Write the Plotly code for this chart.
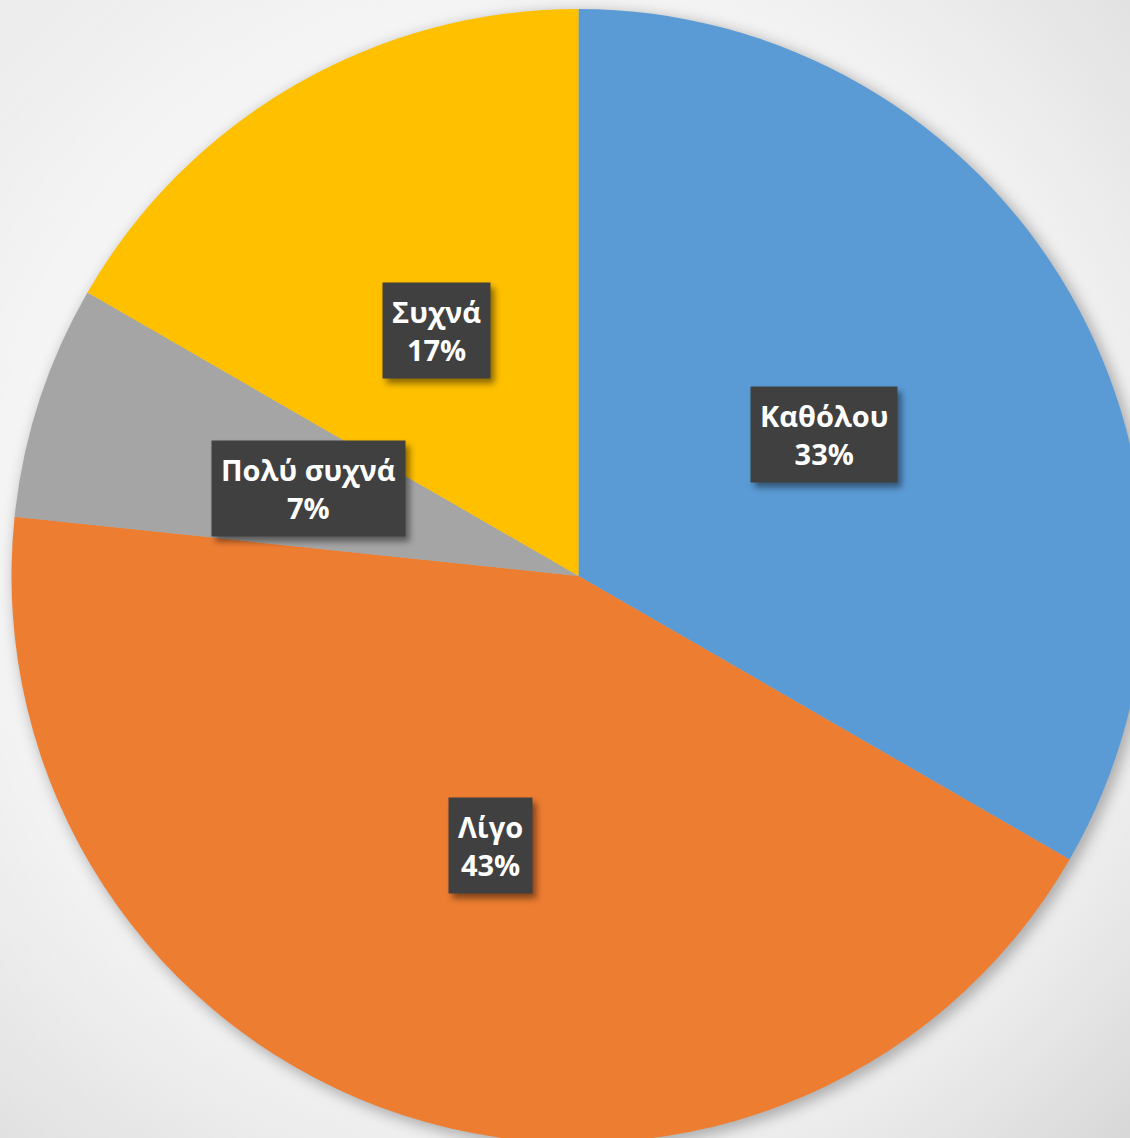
import math
import base64
import plotly.graph_objects as go

# ---- data ----
categories = ["Καθόλου", "Λίγο", "Πολύ συχνά", "Συχνά"]
counts = [10, 13, 2, 5]
colors = ["#5B9BD5", "#ED7D31", "#A5A5A5", "#FFC000"]

# ---- canvas geometry ----
W, H = 1146, 1144
dom_x = [11 / W, 1.0]
dom_y = [1 - 1143 / H, 1 - 9 / H]
cx_px = (dom_x[0] + dom_x[1]) / 2 * W
cy_px = (1 - (dom_y[0] + dom_y[1]) / 2) * H
R_px = min((dom_x[1] - dom_x[0]) * W, (dom_y[1] - dom_y[0]) * H) / 2

# background: soft gradient + pie shadow (decoration only)
svg = f"""<svg xmlns='http://www.w3.org/2000/svg' width='{W}' height='{H}' viewBox='0 0 {W} {H}'>
<defs>
<linearGradient id='lg' x1='0' y1='0' x2='1' y2='1'>
<stop offset='0' stop-color='#ececec'/><stop offset='1' stop-color='#d4d4d4'/></linearGradient>
<radialGradient id='rg' cx='{cx_px}' cy='{cy_px}' r='{R_px*1.45}' gradientUnits='userSpaceOnUse'>
<stop offset='0.6' stop-color='#ffffff' stop-opacity='0.75'/><stop offset='1' stop-color='#ffffff' stop-opacity='0'/></radialGradient>
<filter id='bl' x='-20%' y='-20%' width='140%' height='140%'><feGaussianBlur stdDeviation='7'/></filter>
</defs>
<rect width='{W}' height='{H}' fill='url(#lg)'/>
<rect width='{W}' height='{H}' fill='url(#rg)'/>
<circle cx='{cx_px+4}' cy='{cy_px+4}' r='{R_px+2}' fill='#000000' fill-opacity='0.28' filter='url(#bl)'/>
</svg>"""
svg_uri = "data:image/svg+xml;base64," + base64.b64encode(svg.encode("utf-8")).decode("ascii")

total = sum(counts)
fig = go.Figure(
    go.Pie(
        labels=categories,
        values=counts,
        sort=False,
        direction="clockwise",
        rotation=0,
        marker=dict(colors=colors, line=dict(width=0)),
        textinfo="none",
        hoverinfo="label+percent",
        showlegend=False,
        domain=dict(x=dom_x, y=dom_y),
    )
)

# data labels at half radius of each slice's mid-angle
annotations = []
cum = 0
for cat, v in zip(categories, counts):
    mid = (cum + v / 2) / total
    cum += v
    ang = 2 * math.pi * mid
    px = cx_px + 0.5 * R_px * math.sin(ang)
    py = cy_px - 0.5 * R_px * math.cos(ang)
    pct = round(v / total * 100)
    annotations.append(dict(
        x=px / W, y=1 - py / H, xref="paper", yref="paper",
        text=f"<b>{cat}<br>{pct}%</b>", showarrow=False, borderpad=9,
        xanchor="center", yanchor="middle", bgcolor="#404040",
        font=dict(family="Open Sans", size=29, color="#ffffff"),
    ))

fig.update_layout(
    width=W, height=H,
    margin=dict(l=0, r=0, t=0, b=0),
    paper_bgcolor="#e4e4e4",
    plot_bgcolor="rgba(0,0,0,0)",
    images=[dict(source=svg_uri, xref="paper", yref="paper", x=0, y=1,
                 sizex=1, sizey=1, xanchor="left", yanchor="top",
                 sizing="stretch", layer="below")],
    annotations=annotations,
)

post = (
    "document.body.style.margin='0';document.body.style.overflow='hidden';"
    "document.querySelectorAll('.annotation rect.bg').forEach(function(r){"
    "r.style.filter='drop-shadow(4px 5px 3px rgba(0,0,0,0.45))';});"
)

fig.write_html(
    "out.html",
    config={"displayModeBar": False},
    post_script=post,
)
